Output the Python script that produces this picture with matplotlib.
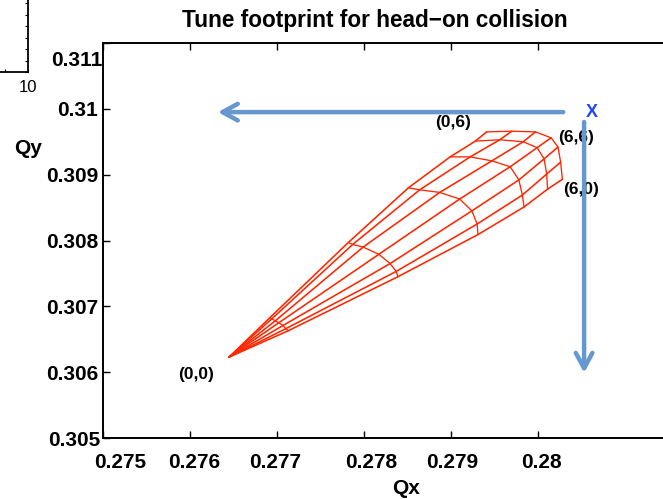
import numpy as np
import matplotlib
matplotlib.use("Agg")
import matplotlib.pyplot as plt
from matplotlib.transforms import ScaledTranslation

plt.rcParams['font.family'] = ['Liberation Sans', 'DejaVu Sans']

# ---------------- data ----------------
title = "Tune footprint for head\u2212on collision"
x_label = "Qx"
y_label = "Qy"
x_ticks = [0.275, 0.276, 0.277, 0.278, 0.279, 0.280]
x_tick_labels = ["0.275", "0.276", "0.277", "0.278", "0.279", "0.28"]
y_ticks = [0.305, 0.306, 0.307, 0.308, 0.309, 0.310, 0.311]
y_tick_labels = ["0.305", "0.306", "0.307", "0.308", "0.309", "0.31", "0.311"]

# footprint nodes: rings of amplitude r = 1..6 sigma,
# each listed from angle 90 deg (pure vertical amplitude) to 0 deg (pure horizontal)
qx_tip = 0.27645
qy_tip = 0.30623
qx_r1 = [0.27692, 0.27694, 0.27698, 0.27702, 0.27707, 0.27710, 0.27713]
qy_r1 = [0.30683, 0.30681, 0.30678, 0.30675, 0.30671, 0.30666, 0.30663]
qx_r2 = [0.27782, 0.27787, 0.27799, 0.27817, 0.27830, 0.27837, 0.27839]
qy_r2 = [0.30797, 0.30794, 0.30790, 0.30779, 0.30765, 0.30753, 0.30745]
qx_r3 = [0.27851, 0.27864, 0.27887, 0.27910, 0.27924, 0.27930, 0.27931]
qy_r3 = [0.30880, 0.30877, 0.30873, 0.30863, 0.30845, 0.30825, 0.30809]
qx_r4 = [0.27899, 0.27922, 0.27947, 0.27968, 0.27978, 0.27982, 0.27984]
qy_r4 = [0.30927, 0.30927, 0.30921, 0.30912, 0.30892, 0.30869, 0.30851]
qx_r5 = [0.27928, 0.27956, 0.27983, 0.27999, 0.28007, 0.28010, 0.28011]
qy_r5 = [0.30951, 0.30953, 0.30950, 0.30941, 0.30924, 0.30901, 0.30878]
qx_r6 = [0.27941, 0.27970, 0.27997, 0.28015, 0.28023, 0.28026, 0.28028]
qy_r6 = [0.30965, 0.30966, 0.30965, 0.30956, 0.30942, 0.30919, 0.30893]

corner_labels = ["(0,6)", "(6,6)", "(6,0)", "(0,0)"]
corner_qx = [0.27902, 0.28044, 0.28049, 0.27607]
corner_qy = [0.30979, 0.30957, 0.30878, 0.30596]

# ---------------- figure ----------------
W, H = 663, 499
fig = plt.figure(figsize=(W / 100, H / 100), dpi=100)

def px_rect(x0, y0, x1, y1):
    """pixel box (top-left origin) -> figure fraction rect"""
    return [x0 / W, 1 - y1 / H, (x1 - x0) / W, (y1 - y0) / H]

def shift(dx_px, dy_px_down):
    return ScaledTranslation(dx_px / 100, -dy_px_down / 100, fig.dpi_scale_trans)

# remnant of a neighbouring plot in the top-left corner
ax0 = fig.add_axes(px_rect(28 - 230, 72 - 115, 28, 72))
ax0.set_xlim(0, 10)
ax0.set_ylim(0, 10)
ax0.set_xticks(range(11))
ax0.set_xticklabels([""] * 10 + ["10"], fontsize=12)
ax0.set_yticks(range(11))
ax0.yaxis.tick_right()
ax0.set_yticklabels([])
ax0.tick_params(direction="in", length=2.5, width=0.8, pad=6)
for s in ["top", "left"]:
    ax0.spines[s].set_visible(False)
for s in ["right", "bottom"]:
    ax0.spines[s].set_linewidth(1.3)
ax0.patch.set_alpha(0)

# main axes
xmin, ymin, ymax = 0.275, 0.305, 0.311
ax = fig.add_axes(px_rect(103, 43, 668, 438))
ax.set_xlim(xmin, xmin + (668 - 103) / 87000)
ax.set_ylim(ymin, ymax)

QX = np.array([[qx_tip] * 7, qx_r1, qx_r2, qx_r3, qx_r4, qx_r5, qx_r6])
QY = np.array([[qy_tip] * 7, qy_r1, qy_r2, qy_r3, qy_r4, qy_r5, qy_r6])
red = "#ff2600"
for j in range(QX.shape[1]):           # radial lines (constant angle)
    ax.plot(QX[:, j], QY[:, j], color=red, lw=1.15, solid_capstyle="round")
for i in range(1, QX.shape[0]):        # rings (constant amplitude)
    ax.plot(QX[i], QY[i], color=red, lw=0.95)

ax.set_xticks(x_ticks)
ax.set_xticklabels(x_tick_labels, fontsize=15, fontweight="bold")
ax.set_yticks(y_ticks)
ax.set_yticklabels(y_tick_labels, fontsize=15, fontweight="bold")
ax.tick_params(direction="in", length=5, width=1, top=True, right=False)
ax.tick_params(axis="x", pad=11)
ax.tick_params(axis="y", pad=3.5)
for s in ax.spines.values():
    s.set_linewidth(1.4)

# small label offsets as in the original
x_off = [17, 4, -2, 7, 1, 3]
for lab, dx in zip(ax.get_xticklabels(), x_off):
    lab.set_transform(lab.get_transform() + shift(dx, 0))
y_off = [(2, 0), (0, 0), (0, 0), (0, 0), (0, 0), (0, 0), (4, 15)]
for lab, (dx, dy) in zip(ax.get_yticklabels(), y_off):
    lab.set_transform(lab.get_transform() + shift(dx, dy))

# corner annotations
for t, x, y in zip(corner_labels, corner_qx, corner_qy):
    ax.text(x, y, t, fontsize=12.5, fontweight="bold", ha="center", va="center")

# blue arrows and bare-tune marker
blue = "#6797cf"
ax.annotate("", xy=(0.27632, 0.30995), xytext=(0.28029, 0.30995),
            arrowprops=dict(arrowstyle="->,head_length=1.1,head_width=0.6",
                            color=blue, lw=3.2, shrinkA=0, shrinkB=0))
ax.annotate("", xy=(0.28053, 0.30599), xytext=(0.28053, 0.30980),
            arrowprops=dict(arrowstyle="->,head_length=1.1,head_width=0.6",
                            color=blue, lw=3.2, shrinkA=0, shrinkB=0))
ax.text(0.28062, 0.30995, "X", color="#1f45ff", fontsize=13, fontweight="bold",
        ha="center", va="center")

# titles / axis labels
fig.text(375 / W, 1 - 20 / H, title, fontsize=16.3, fontweight="bold", ha="center", va="center")
fig.text(406 / W, 1 - 488 / H, x_label, fontsize=15, fontweight="bold", ha="center", va="center")
fig.text(28 / W, 1 - 148 / H, y_label, fontsize=15, fontweight="bold", ha="center", va="center")

fig.savefig("out.png", dpi=100)
